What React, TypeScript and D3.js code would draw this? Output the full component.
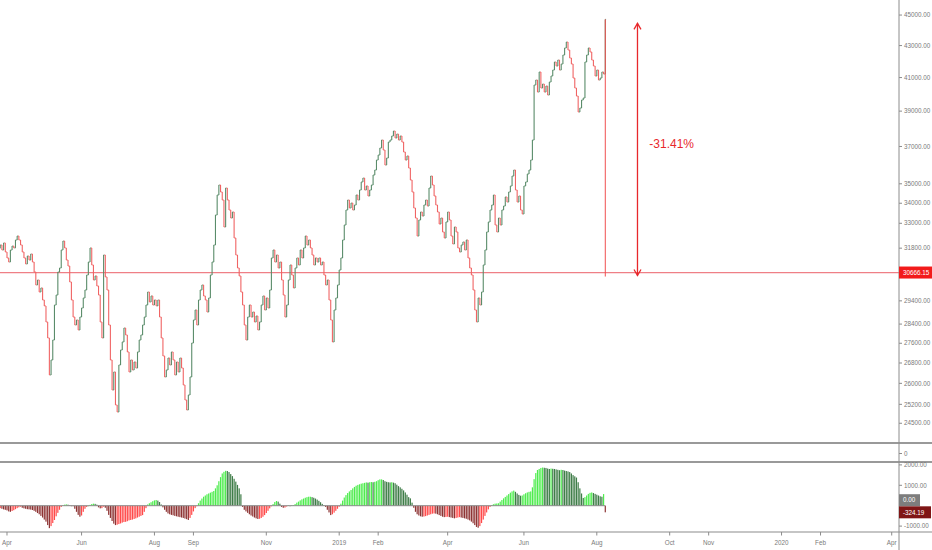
import * as d3 from 'd3';
import React, { useEffect, useRef } from 'react';

// Daily bars, first bar on this date, weekdays only
const startDate = '2018-03-27';
const firstOpen = 31800;

// closing prices, one per trading day
const closes: number[] = [
    31950, 31713, 32050, 31620,
    31340, 31150, 31710, 31900, 31810, 32190, 32380, 32190, 31950, 31620,
    31340, 31060, 31430, 31244, 31525, 31150, 30690, 30103, 30328, 29790,
    29970, 29438, 29180, 28490, 27820, 26327, 26922, 27735, 29219, 29657,
    30690, 30875, 31713, 32140, 31810, 31244, 30965, 30240, 29438, 28700,
    28362, 28574, 28152, 28700, 29090, 29525, 29879, 30554, 31150, 31810,
    31013, 30328, 30510, 30060, 29657, 28490, 27820, 31478, 30465, 29879,
    28362, 26922, 25745, 26445, 25177, 24915, 26722, 27325, 27655, 28235,
    27943, 27245, 26445, 26922, 26524, 26840, 26600, 27245, 27735, 27943,
    28362, 28700, 29219, 29790, 29350, 29615, 29219, 29438, 29180, 29438,
    28700, 27820, 27085, 26250, 26524, 27000, 26722, 27245, 26922, 26327,
    26840, 26445, 27000, 26600, 25938, 25365, 24990, 25555, 26250, 27610,
    28574, 29003, 28362, 29438, 29879, 30103, 29615, 29438, 28915, 29525,
    30554, 31150, 31950, 33410, 34420, 34936, 34575, 34164, 32820, 34780,
    34164, 33659, 33260, 33560, 32285, 31478, 30875, 30510, 29790, 29219,
    28362, 27735, 28700, 29219, 28700, 28915, 28490, 28745, 28152, 28490,
    29219, 29615, 29003, 29525, 29090, 29879, 31340, 31713, 31150, 31478,
    30875, 31150, 30328, 29657, 28700, 29219, 30328, 31013, 30554, 29970,
    30875, 31340, 31013, 31713, 31340, 31810, 32380, 31950, 32190, 31810,
    31478, 31013, 31340, 31150, 31340, 31013, 31150, 30554, 30103, 30328,
    29438, 28574, 27655, 29003, 29525, 30103, 30783, 31340, 32190, 32916,
    33659, 34164, 33760, 34010, 33659, 33911, 34420, 34164, 34677, 35095,
    35300, 34677, 34885, 34370, 34677, 34936, 35460, 35725, 36261, 36532,
    36915, 37357, 36805, 35992, 36370, 37245, 37357, 37580, 37860, 37470,
    37690, 37357, 37580, 37245, 36695, 36261, 36480, 35830, 35197, 34575,
    33760, 33260, 32380, 33162, 33560, 33360, 33911, 34164, 33860, 34780,
    35405, 34936, 34370, 33911, 33560, 32965, 33260, 32575, 32285, 33065,
    33560, 33162, 32380, 32000, 32820, 32575, 31810, 31620, 31950, 32095,
    31713, 32190, 31340, 30875, 30554, 29879, 29003, 28490, 29525, 29219,
    29790, 31013, 31713, 32575, 33065, 33659, 33911, 34420, 32916, 32575,
    33260, 32916, 33659, 33860, 34320, 34060, 34575, 34885, 35405, 35725,
    34677, 34060, 34370, 33659, 33460, 34885, 35095, 35515, 35725, 36261,
    37357, 40546, 40849, 40125, 41340, 40365, 40605, 40125, 40485, 39946,
    40730, 41095, 41461, 41960, 41710, 42083, 41461, 41835, 42398, 42845,
    43225, 42715, 42210, 41835, 40970, 40365, 39885, 38950, 39180, 39650,
    39770, 41960, 42398, 42845, 42590, 42083, 41710, 41095, 41461, 40849,
    40970, 41340, 41215, 44710,
];

// oscillator histogram, one per trading day
const histValues: number[] = [
    -120, -150, -180, -200,
    -230, -280, -300, -260, -220, -170, -120, -80, -50, -100,
    -130, -150, -170, -180, -190, -210, -250, -300, -360, -420,
    -500, -580, -680, -780, -950, -1100, -1000, -850, -700, -520,
    -350, -200, -60, 20, 50, 65, 50, 20, -10, -20,
    -150, -300, -450, -540, -480, -300, -150, -60, 0, 40,
    80, 100, 90, 50, -80, -130, -120, -50, -100, -250,
    -450, -600, -750, -880, -950, -930, -900, -870, -830, -800,
    -790, -760, -720, -700, -680, -650, -620, -580, -540, -500,
    -460, -300, -120, 60, 120, 170, 220, 260, 280, 250,
    180, 60, -80, -200, -300, -380, -420, -450, -470, -500,
    -520, -540, -560, -580, -600, -630, -660, -700, -600, -450,
    -280, -120, -20, 120, 250, 350, 440, 500, 560, 600,
    640, 680, 720, 850, 1000, 1200, 1400, 1580, 1660, 1710,
    1700, 1650, 1550, 1450, 1320, 1180, 1020, 850, 560, -60,
    -200, -280, -350, -420, -480, -530, -580, -620, -650, -640,
    -600, -540, -460, -360, -250, -130, -30, 80, 180, 230,
    200, 100, -60, -100, -90, -40, 10, -10, 10, 20,
    80, 150, 200, 260, 310, 350, 390, 420, 440, 440,
    420, 390, 350, 300, 240, 170, 90, 30, -60, -200,
    -330, -460, -420, -340, -250, -150, -50, 100, 250, 400,
    520, 620, 700, 770, 850, 920, 980, 1020, 1050, 1080,
    1100, 1120, 1140, 1130, 1150, 1160, 1150, 1170, 1200, 1250,
    1290, 1290, 1260, 1200, 1170, 1150, 1140, 1150, 1130, 1100,
    1030, 960, 900, 830, 750, 650, 540, 420, 360, 150,
    -100, -300, -420, -480, -520, -540, -530, -510, -480, -450,
    -420, -390, -380, -390, -420, -460, -500, -540, -560, -550,
    -540, -560, -580, -600, -620, -600, -580, -560, -580, -600,
    -620, -640, -680, -720, -780, -860, -950, -1040, -1080, -1000,
    -850, -680, -500, -330, -180, -60, 30, 70, 100, 110,
    120, 200, 280, 360, 430, 500, 570, 640, 700, 740,
    680, 600, 530, 490, 500, 560, 610, 650, 680, 700,
    900, 1300, 1600, 1750, 1800, 1850, 1870, 1860, 1850, 1820,
    1800, 1820, 1810, 1800, 1780, 1760, 1740, 1760, 1750, 1720,
    1700, 1680, 1650, 1580, 1500, 1440, 1380, 1150, 850, 600,
    380, 420, 500, 580, 630, 650, 620, 580, 540, 500,
    460, 440, 570, -324.19,
];

const levelValue = 30666.15;
const priceTicks = [45000, 43000, 41000, 39000, 37000, 35000, 34000, 33000, 31800, 29400, 28400, 27600, 26800, 26000, 25200, 24500];
const histTicks = [2000, 1000, -1000];
const tickMonths = ['2018-04', '2018-06', '2018-08', '2018-09', '2018-11', '2019-01', '2019-02', '2019-04', '2019-06', '2019-08', '2019-10', '2019-11', '2020-01', '2020-02', '2020-04'];
const tickLabels = ['Apr', 'Jun', 'Aug', 'Sep', 'Nov', '2019', 'Feb', 'Apr', 'Jun', 'Aug', 'Oct', 'Nov', '2020', 'Feb', 'Apr'];

export default () => {
    const ref = useRef<any>();

    function cb(): void {
        const W = 932, H = 550;
        const axisX = 899;
        const mainBottom = 443;
        const midBottom = 462;
        const histBottom = 532;
        const font = "'Liberation Sans', Arial, sans-serif";
        const fs = 6.3;
        const axisColor = '#8c8c8c';
        const labelColor = '#7a7a7a';
        const upColor = '#5a8c6a';
        const downColor = '#f06464';
        const red = '#e8282b';
        const fmt = (v: number) => v.toFixed(2);

        const svg = d3.select<any, any>(ref.current).attr('width', W).attr('height', H);
        svg.selectAll('*').remove();
        svg.append('rect').attr('width', W).attr('height', H).attr('fill', '#fff');

        // trading calendar (weekdays), runs past the data for the future axis labels
        const parseDay = d3.timeParse('%Y-%m-%d');
        const parseMonth = d3.timeParse('%Y-%m');
        const days = d3.timeDay.range(parseDay(startDate) as Date, parseDay('2020-05-01') as Date)
            .filter((d) => d.getDay() !== 0 && d.getDay() !== 6);

        const xScale = d3.scaleLinear().domain([-0.13, 530.3]).range([0, axisX]);
        const yScale = d3.scaleLog().domain([23790, 46020]).range([mainBottom, 0]);
        const hScale = d3.scaleLinear().domain([-1289, 2142]).range([histBottom, midBottom]);

        const bars = closes.map((c, i) => {
            const o = i === 0 ? firstOpen : closes[i - 1];
            return { i, o, c, hi: Math.max(o, c), lo: Math.min(o, c) };
        });

        // horizontal level
        svg.append('line')
            .attr('x1', 0).attr('x2', axisX)
            .attr('y1', yScale(levelValue)).attr('y2', yScale(levelValue))
            .attr('stroke', '#ef7f86').attr('stroke-width', 1.3);

        // price bars
        const barG = svg.append('g');
        bars.forEach((b) => {
            const x = xScale(b.i);
            const col = b.c >= b.o ? upColor : downColor;
            let y1 = yScale(b.hi), y2 = yScale(b.lo);
            if (y2 - y1 < 1) { y1 -= 0.5; y2 += 0.5; }
            barG.append('line').attr('x1', x).attr('x2', x).attr('y1', y1).attr('y2', y2)
                .attr('stroke', col).attr('stroke-width', 1.1);
            barG.append('line').attr('x1', x - 0.8).attr('x2', x).attr('y1', yScale(b.o)).attr('y2', yScale(b.o))
                .attr('stroke', col).attr('stroke-width', 1);
            barG.append('line').attr('x1', x).attr('x2', x + 0.8).attr('y1', yScale(b.c)).attr('y2', yScale(b.c))
                .attr('stroke', col).attr('stroke-width', 1);
        });

        // measurement annotation
        const last = bars[bars.length - 1];
        const lastX = xScale(last.i);
        svg.append('line')
            .attr('x1', lastX).attr('x2', lastX)
            .attr('y1', yScale(last.c)).attr('y2', yScale(levelValue) + 4)
            .attr('stroke', '#f05050').attr('stroke-width', 1);

        const arrowX = xScale(376);
        const aTop = yScale(last.c) + 4;
        const aBot = yScale(levelValue) + 3;
        const ann = svg.append('g').attr('stroke', red).attr('stroke-width', 1.3).attr('fill', 'none');
        ann.append('line').attr('x1', arrowX).attr('x2', arrowX).attr('y1', aTop).attr('y2', aBot);
        ann.append('path').attr('d', `M${arrowX - 3.5},${aTop + 6}L${arrowX},${aTop}L${arrowX + 3.5},${aTop + 6}`);
        ann.append('path').attr('d', `M${arrowX - 3.5},${aBot - 6}L${arrowX},${aBot}L${arrowX + 3.5},${aBot - 6}`);
        const pct = (levelValue - last.c) / last.c * 100;
        svg.append('text')
            .attr('x', xScale(383)).attr('y', (aTop + aBot) / 2 - 1.5)
            .attr('fill', red).attr('font-size', 12)
            .attr('font-family', font)
            .text(fmt(pct) + '%');

        // histogram
        const histG = svg.append('g');
        histValues.forEach((v, i) => {
            const prev = i === 0 ? v : histValues[i - 1];
            const rising = v >= prev;
            const col = v >= 0 ? (rising ? '#4eec4e' : '#3f7d48') : (rising ? '#ff4a4a' : '#8e3434');
            const y0 = hScale(0), y1 = hScale(v);
            histG.append('rect')
                .attr('x', xScale(i) - 0.6).attr('width', 1.2)
                .attr('y', Math.min(y0, y1)).attr('height', Math.max(Math.abs(y1 - y0), 0.5))
                .attr('fill', col);
        });
        svg.append('line')
            .attr('x1', 0).attr('x2', lastX)
            .attr('y1', hScale(0)).attr('y2', hScale(0))
            .attr('stroke', '#8a8a8a').attr('stroke-width', 1);

        // frame: pane separators, bottom axis, right axis
        [mainBottom, midBottom].forEach((y) => {
            svg.append('line').attr('x1', 0).attr('x2', W).attr('y1', y).attr('y2', y)
                .attr('stroke', '#999').attr('stroke-width', 1.8);
        });
        svg.append('line').attr('x1', 0).attr('x2', W).attr('y1', histBottom).attr('y2', histBottom)
            .attr('stroke', axisColor).attr('stroke-width', 1.2);
        svg.append('line').attr('x1', axisX).attr('x2', axisX).attr('y1', 0).attr('y2', H)
            .attr('stroke', axisColor).attr('stroke-width', 1);

        const axisLabel = (y: number, txt: string) => {
            svg.append('line').attr('x1', axisX).attr('x2', axisX + 3).attr('y1', y).attr('y2', y)
                .attr('stroke', axisColor).attr('stroke-width', 1);
            svg.append('text').attr('x', axisX + 5).attr('y', y).attr('dy', '0.35em')
                .attr('font-size', fs).attr('font-family', font).attr('fill', labelColor).text(txt);
        };
        priceTicks.forEach((t) => axisLabel(yScale(t), fmt(t)));
        histTicks.forEach((t) => axisLabel(hScale(t), fmt(t)));
        axisLabel((mainBottom + midBottom) / 2 + 1, '0');

        const boxLabel = (y: number, txt: string, bg: string, w: number) => {
            svg.append('rect').attr('x', axisX).attr('y', y - 6).attr('width', w).attr('height', 12).attr('fill', bg);
            svg.append('text').attr('x', axisX + 4).attr('y', y).attr('dy', '0.35em')
                .attr('font-size', fs).attr('font-family', font).attr('fill', '#fff').text(txt);
        };
        const lastHist = histValues[histValues.length - 1];
        boxLabel(yScale(levelValue), fmt(levelValue), '#f21b1b', 33);
        boxLabel(hScale(0) - 5.5, fmt(0), '#7d7d7d', 21);
        boxLabel(hScale(lastHist), fmt(lastHist), '#7f1515', 32);

        // month labels on the bottom axis
        tickMonths.forEach((m, j) => {
            const ms = parseMonth(m) as Date;
            const idx = days.findIndex((d) => d >= ms);
            const x = xScale(idx);
            svg.append('line').attr('x1', x).attr('x2', x).attr('y1', histBottom).attr('y2', histBottom + 3.5)
                .attr('stroke', axisColor).attr('stroke-width', 1);
            svg.append('text').attr('x', x).attr('y', histBottom + 10.5).attr('dy', '0.35em')
                .attr('text-anchor', 'middle').attr('font-size', fs).attr('font-family', font)
                .attr('fill', labelColor).text(tickLabels[j]);
        });
    }

    useEffect(() => {
        cb();
    }, []);

    return (
        <svg ref={ref} style={{ position: 'absolute', left: 0, top: 0, display: 'block' }} />
    );
};
